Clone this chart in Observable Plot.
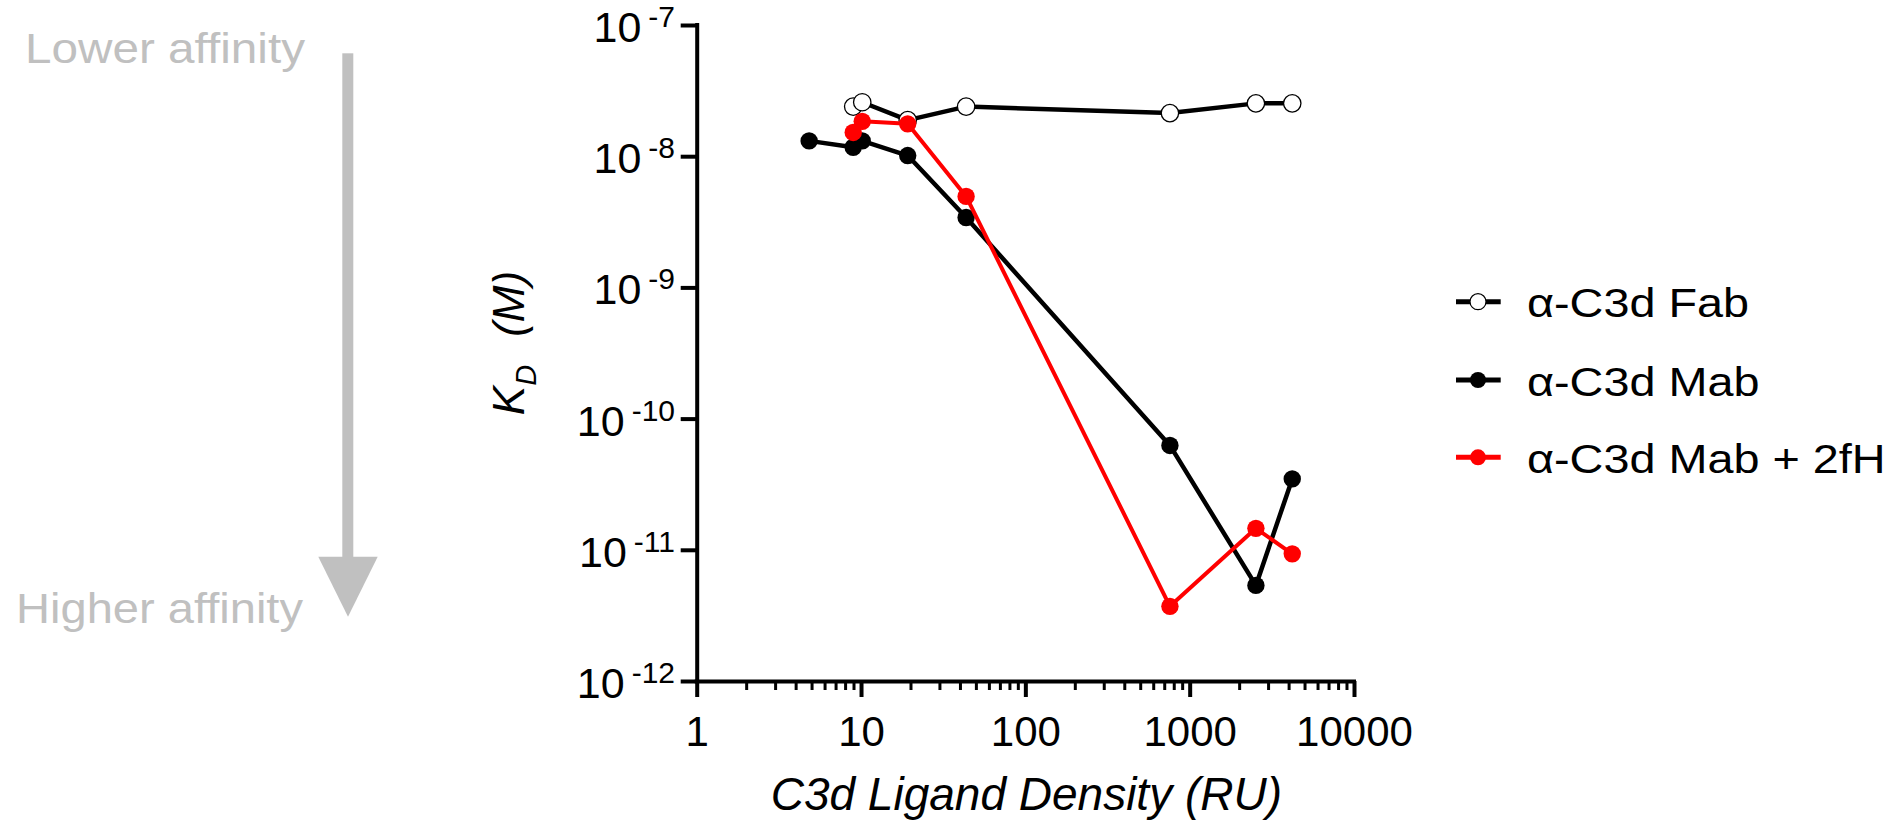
<!DOCTYPE html>
<html>
<head>
<meta charset="utf-8">
<script src="https://cdn.jsdelivr.net/npm/d3@7"></script>
<script src="https://cdn.jsdelivr.net/npm/@observablehq/plot@0.6"></script>
<style>
  body { margin: 0; background: #fff; }
  #chart { width: 1890px; height: 822px; }
</style>
</head>
<body>
<div id="chart"></div>
<script>
// ---------------- data ----------------
const seriesNames = ["α-C3d Fab", "α-C3d Mab", "α-C3d Mab + 2fH"];
const seriesColors = ["black", "black", "#ff0000"];
const seriesFills = ["white", "black", "#ff0000"];

const fabDensity = [8.9, 10.1, 19.1, 43.3, 753, 2512, 4180];
const fabKD      = [2.41e-8, 2.6e-8, 1.9e-8, 2.41e-8, 2.15e-8, 2.55e-8, 2.55e-8];

const mabDensity = [4.8, 8.9, 10.1, 19.1, 43.3, 753, 2512, 4180];
const mabKD      = [1.32e-8, 1.18e-8, 1.32e-8, 1.02e-8, 3.44e-9, 6.3e-11, 5.4e-12, 3.5e-11];

const mab2fhDensity = [8.9, 10.1, 19.1, 43.3, 753, 2512, 4180];
const mab2fhKD      = [1.53e-8, 1.86e-8, 1.78e-8, 4.98e-9, 3.74e-12, 1.47e-11, 9.4e-12];

const xTicks = [1, 10, 100, 1000, 10000];
const xTickLabels = ["1", "10", "100", "1000", "10000"];
const yTicks = [1e-12, 1e-11, 1e-10, 1e-9, 1e-8, 1e-7];
const yTickBase = "10";
const yTickExponents = ["-12", "-11", "-10", "-9", "-8", "-7"];

const xLabel = "C3d Ligand Density (RU)";
const yLabelMain = "K", yLabelSub = "D", yLabelUnit = "(M)";
const noteTop = "Lower affinity", noteBottom = "Higher affinity";

// ---------------- build ----------------
const toRows = (xs, ys) => xs.map((x, i) => ({x, y: ys[i]}));
const fab = toRows(fabDensity, fabKD);
const mab = toRows(mabDensity, mabKD);
const mab2fh = toRows(mab2fhDensity, mab2fhKD);

const minorTicks = [];
for (const dec of [1, 10, 100, 1000]) for (let k = 2; k <= 9; k++) minorTicks.push(dec * k);

const W = 1890, H = 822;
const L = 696.7, R = 1354, T = 25, B = 681;
const FONT = "'Liberation Sans', Arial, Helvetica, sans-serif";

const plot = Plot.plot({
  width: W, height: H,
  marginLeft: L, marginRight: W - R, marginTop: T, marginBottom: H - B,
  style: {fontFamily: FONT, background: "white", color: "black", overflow: "visible"},
  x: {type: "log", domain: [1, 10000]},
  y: {type: "log", domain: [1e-12, 1e-7]},
  marks: [
    Plot.axisX({ticks: minorTicks, tickSize: 9, strokeWidth: 3, tickFormat: () => "", label: null}),
    Plot.axisX({ticks: xTicks, tickSize: 16, strokeWidth: 4, tickPadding: 19, fontSize: 42,
                tickFormat: d => xTickLabels[xTicks.indexOf(d)], label: null}),
    Plot.axisY({ticks: yTicks, tickSize: 16, strokeWidth: 4, tickFormat: () => "", label: null}),
    Plot.ruleY([1e-12], {strokeWidth: 4, strokeLinecap: "square"}),
    Plot.ruleX([1], {strokeWidth: 4, strokeLinecap: "square"}),
    Plot.line(fab, {x: "x", y: "y", stroke: seriesColors[0], strokeWidth: 4.5}),
    Plot.dot(fab, {x: "x", y: "y", r: 8.7, fill: seriesFills[0], stroke: "black", strokeWidth: 1.3}),
    Plot.line(mab, {x: "x", y: "y", stroke: seriesColors[1], strokeWidth: 4.5}),
    Plot.dot(mab, {x: "x", y: "y", r: 8.7, fill: seriesFills[1], stroke: "none"}),
    Plot.line(mab2fh, {x: "x", y: "y", stroke: seriesColors[2], strokeWidth: 4}),
    Plot.dot(mab2fh, {x: "x", y: "y", r: 8.7, fill: seriesFills[2], stroke: "none"})
  ]
});

document.getElementById("chart").appendChild(plot);

const svg = d3.select(plot);
const ys = plot.scale("y");
const xs = plot.scale("x");

// y tick labels with superscript exponents
const yl = svg.append("g").attr("font-family", FONT).attr("fill", "black");
yTicks.forEach((t, i) => {
  const py = ys.apply(t);
  const txt = yl.append("text")
    .attr("x", 675).attr("y", py + 17)
    .attr("text-anchor", "end").attr("font-size", 43);
  txt.append("tspan").text(yTickBase);
  txt.append("tspan").attr("dx", 7).attr("dy", -15).attr("font-size", 30).text(yTickExponents[i]);
});

// y axis title
const cy = (ys.apply(1e-12) + ys.apply(1e-7)) / 2 - 10;
const yt = svg.append("text")
  .attr("transform", `translate(524,${cy}) rotate(-90)`)
  .attr("text-anchor", "middle").attr("font-family", FONT)
  .attr("font-style", "italic").attr("font-size", 44).attr("fill", "black");
yt.append("tspan").text(yLabelMain);
yt.append("tspan").attr("font-size", 29).attr("dy", 12).text(yLabelSub);
yt.append("tspan").attr("dy", -12).attr("dx", 28).text(yLabelUnit);

// x axis title
svg.append("text")
  .attr("x", (xs.apply(1) + xs.apply(10000)) / 2 + 1).attr("y", 810)
  .attr("text-anchor", "middle").attr("font-family", FONT)
  .attr("font-style", "italic").attr("font-size", 46).attr("fill", "black")
  .text(xLabel);

// legend
const legendY = [301.7, 380, 457.3];
const lg = svg.append("g").attr("font-family", FONT);
seriesNames.forEach((name, i) => {
  const y = legendY[i];
  lg.append("line").attr("x1", 1456).attr("x2", 1500.7).attr("y1", y).attr("y2", y)
    .attr("stroke", seriesColors[i]).attr("stroke-width", 5);
  lg.append("circle").attr("cx", 1478).attr("cy", y).attr("r", 8)
    .attr("fill", seriesFills[i]).attr("stroke", i === 0 ? "black" : "none").attr("stroke-width", 1.2);
  lg.append("text")
    .attr("transform", `translate(1527,${y + 15.5}) scale(1.17,1)`)
    .attr("text-anchor", "start").attr("font-size", 40).attr("fill", "black").text(name);
});

// left annotation
const grey = "#c0c0c0";
const an = svg.append("g").attr("font-family", FONT).attr("fill", grey);
an.append("text").attr("x", 25).attr("y", 63.3).attr("text-anchor", "start").attr("font-size", 43)
  .attr("textLength", 280).attr("lengthAdjust", "spacingAndGlyphs").text(noteTop);
an.append("text").attr("x", 16).attr("y", 623.3).attr("text-anchor", "start").attr("font-size", 43)
  .attr("textLength", 287).attr("lengthAdjust", "spacingAndGlyphs").text(noteBottom);
an.append("rect").attr("x", 342.3).attr("y", 53.3).attr("width", 11).attr("height", 504);
an.append("polygon").attr("points", "318.3,556.7 377.7,556.7 348,616.7");
</script>
</body>
</html>
